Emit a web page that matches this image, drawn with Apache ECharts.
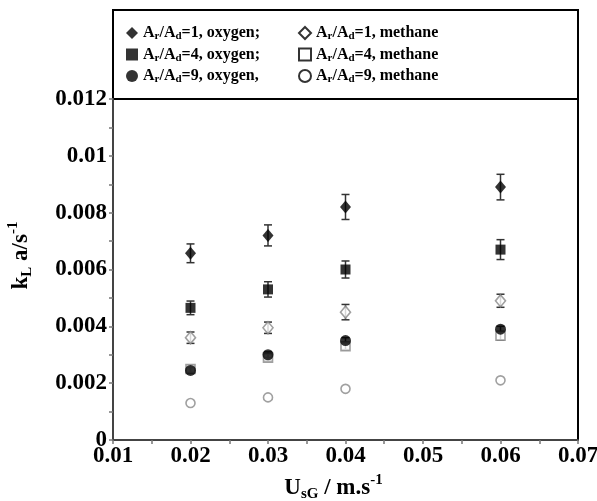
<!DOCTYPE html>
<html>
<head>
<meta charset="utf-8">
<script src="https://cdn.jsdelivr.net/npm/echarts@6/dist/echarts.min.js"></script>
<style>
  html, body { margin: 0; padding: 0; background: #fff; }
  #chart { width: 597px; height: 501px; }
</style>
</head>
<body>
<div id="chart"></div>
<script>
// superficial gas velocity, m/s
const usg = [0.02, 0.03, 0.04, 0.06]

// kLa values (1/s) and error half-widths
const oxy1 = [0.00657, 0.0072, 0.0082, 0.0089]
const oxy1Err = [0.00033, 0.00037, 0.00044, 0.00045]
const oxy4 = [0.00465, 0.0053, 0.0060, 0.0067]
const oxy4Err = [0.00024, 0.00027, 0.0003, 0.00035]
const oxy9 = [0.00245, 0.0030, 0.0035, 0.0039]
const oxy9Err = [0.0001, 0.0001, 0.0001, 0.0001]
const met1 = [0.0036, 0.00395, 0.0045, 0.0049]
const met1Err = [0.0002, 0.0002, 0.00027, 0.00023]
const met4 = [0.0025, 0.0029, 0.0033, 0.00367]
const met4Err = [0.00012, 0.00012, 0.00012, 0.00015]
const met9 = [0.0013, 0.0015, 0.0018, 0.0021]

const legendText = {
  oxy1: '{b|A}{s|r}{b|/A}{s|d}{b|=1, oxygen;}',
  oxy4: '{b|A}{s|r}{b|/A}{s|d}{b|=4, oxygen;}',
  oxy9: '{b|A}{s|r}{b|/A}{s|d}{b|=9, oxygen,}',
  met1: '{b|A}{s|r}{b|/A}{s|d}{b|=1, methane}',
  met4: '{b|A}{s|r}{b|/A}{s|d}{b|=4, methane}',
  met9: '{b|A}{s|r}{b|/A}{s|d}{b|=9, methane}'
}

const font = 'Liberation Serif'
const pairs = (vals) => usg.map((x, i) => [x, vals[i]])
const fmt = (v) => String(+v.toFixed(3))

const errBars = (vals, errs) => ({
  type: 'custom',
  silent: true,
  z: 1,
  data: usg.map((x, i) => [x, vals[i] - errs[i], vals[i] + errs[i]]),
  renderItem: (params, api) => {
    const lo = api.coord([api.value(0), api.value(1)])
    const hi = api.coord([api.value(0), api.value(2)])
    const cap = 4
    const style = { stroke: '#333', lineWidth: 1.5 }
    return {
      type: 'group',
      children: [
        { type: 'line', shape: { x1: lo[0], y1: lo[1], x2: hi[0], y2: hi[1] }, style },
        { type: 'line', shape: { x1: lo[0] - cap, y1: lo[1], x2: lo[0] + cap, y2: lo[1] }, style },
        { type: 'line', shape: { x1: hi[0] - cap, y1: hi[1], x2: hi[0] + cap, y2: hi[1] }, style }
      ]
    }
  }
})

const openStyle = { color: '#fff', borderColor: '#888', borderWidth: 1.6 }
const richLegend = {
  b: { fontFamily: font, fontWeight: 'bold', fontSize: 16, color: '#000', lineHeight: 16 },
  s: { fontFamily: font, fontWeight: 'bold', fontSize: 11, color: '#000', verticalAlign: 'bottom', lineHeight: 16, padding: [0, 0, -1, 0] }
}
const richName = {
  b: { fontFamily: font, fontWeight: 'bold', fontSize: 23, color: '#000', lineHeight: 24 },
  s: { fontFamily: font, fontWeight: 'bold', fontSize: 15, color: '#000', verticalAlign: 'bottom', lineHeight: 24, padding: [0, 0, -2, 0] },
  p: { fontFamily: font, fontWeight: 'bold', fontSize: 15, color: '#000', verticalAlign: 'top', lineHeight: 24, padding: [-3, 0, 0, 0] }
}

const myChart = echarts.init(document.getElementById('chart'))
const option = {
  backgroundColor: '#fff',
  animation: false,
  grid: {
    left: 113, right: 19, top: 99, bottom: 61,
    show: true, borderColor: '#000', borderWidth: 2,
    outerBoundsMode: 'none'
  },
  graphic: [{
    type: 'rect',
    shape: { x: 113, y: 10, width: 465, height: 89 },
    style: { fill: 'none', stroke: '#000', lineWidth: 2 }
  }],
  legend: [
    {
      data: [
        { name: 'oxy1' }, { name: 'oxy4' }, { name: 'oxy9' }
      ],
      orient: 'vertical', left: 126, top: 25, padding: 0,
      itemWidth: 12, itemHeight: 12, itemGap: 4.5,
      formatter: (name) => legendText[name],
      textStyle: { rich: richLegend }
    },
    {
      data: [
        { name: 'met1', itemStyle: { borderColor: '#000' } },
        { name: 'met4', itemStyle: { borderColor: '#000' } },
        { name: 'met9', itemStyle: { borderColor: '#000' } }
      ],
      orient: 'vertical', left: 298, top: 25, padding: 0,
      itemWidth: 12, itemHeight: 12, itemGap: 4.5,
      formatter: (name) => legendText[name],
      textStyle: { rich: richLegend }
    }
  ],
  xAxis: {
    type: 'value',
    min: 0.01, max: 0.07, interval: 0.01,
    name: '{b|U}{s|sG}{b| / m.s}{p|-1}',
    nameLocation: 'middle', nameGap: 33,
    nameTextStyle: { rich: richName, padding: [0, 24, 0, 0] },
    axisLine: { lineStyle: { color: '#444', width: 2 } },
    axisTick: { length: 4, lineStyle: { color: '#777', width: 1.5 } },
    minorTick: { show: true, splitNumber: 2, length: 4, lineStyle: { color: '#777', width: 1.5 } },
    splitLine: { show: false },
    axisLabel: {
      formatter: fmt, color: '#000', fontFamily: font, fontWeight: 'bold', fontSize: 23, margin: 5
    }
  },
  yAxis: {
    type: 'value',
    min: 0, max: 0.012, interval: 0.002,
    name: '{b|k}{s|L}{b| a/s}{p|-1}',
    nameLocation: 'middle', nameGap: 80, nameRotate: 90,
    nameTextStyle: { rich: richName, padding: [0, 0, 0, 28] },
    axisLine: { show: true, lineStyle: { color: '#444', width: 2 } },
    axisTick: { show: true, length: 4, lineStyle: { color: '#777', width: 1.5 } },
    minorTick: { show: true, splitNumber: 2, length: 4, lineStyle: { color: '#777', width: 1.5 } },
    splitLine: { show: false },
    axisLabel: {
      formatter: fmt, color: '#000', fontFamily: font, fontWeight: 'bold', fontSize: 23, margin: 6
    }
  },
  series: [
    errBars(met1, met1Err),
    errBars(met4, met4Err),
    errBars(oxy1, oxy1Err),
    errBars(oxy4, oxy4Err),
    errBars(oxy9, oxy9Err),
    { name: 'met9', type: 'scatter', z: 2, symbol: 'circle', symbolSize: 9, itemStyle: openStyle, data: pairs(met9) },
    { name: 'met4', type: 'scatter', z: 2, symbol: 'rect', symbolSize: 9, itemStyle: openStyle, data: pairs(met4) },
    { name: 'met1', type: 'scatter', z: 2, symbol: 'diamond', symbolSize: [10, 12], itemStyle: openStyle, data: pairs(met1) },
    { name: 'oxy9', type: 'scatter', z: 3, symbol: 'circle', symbolSize: 11, itemStyle: { color: '#000' }, data: pairs(oxy9) },
    { name: 'oxy4', type: 'scatter', z: 3, symbol: 'rect', symbolSize: 10, itemStyle: { color: '#000' }, data: pairs(oxy4) },
    { name: 'oxy1', type: 'scatter', z: 3, symbol: 'diamond', symbolSize: [11, 13], itemStyle: { color: '#000' }, data: pairs(oxy1) }
  ]
}
myChart.setOption(option)
</script>
</body>
</html>
